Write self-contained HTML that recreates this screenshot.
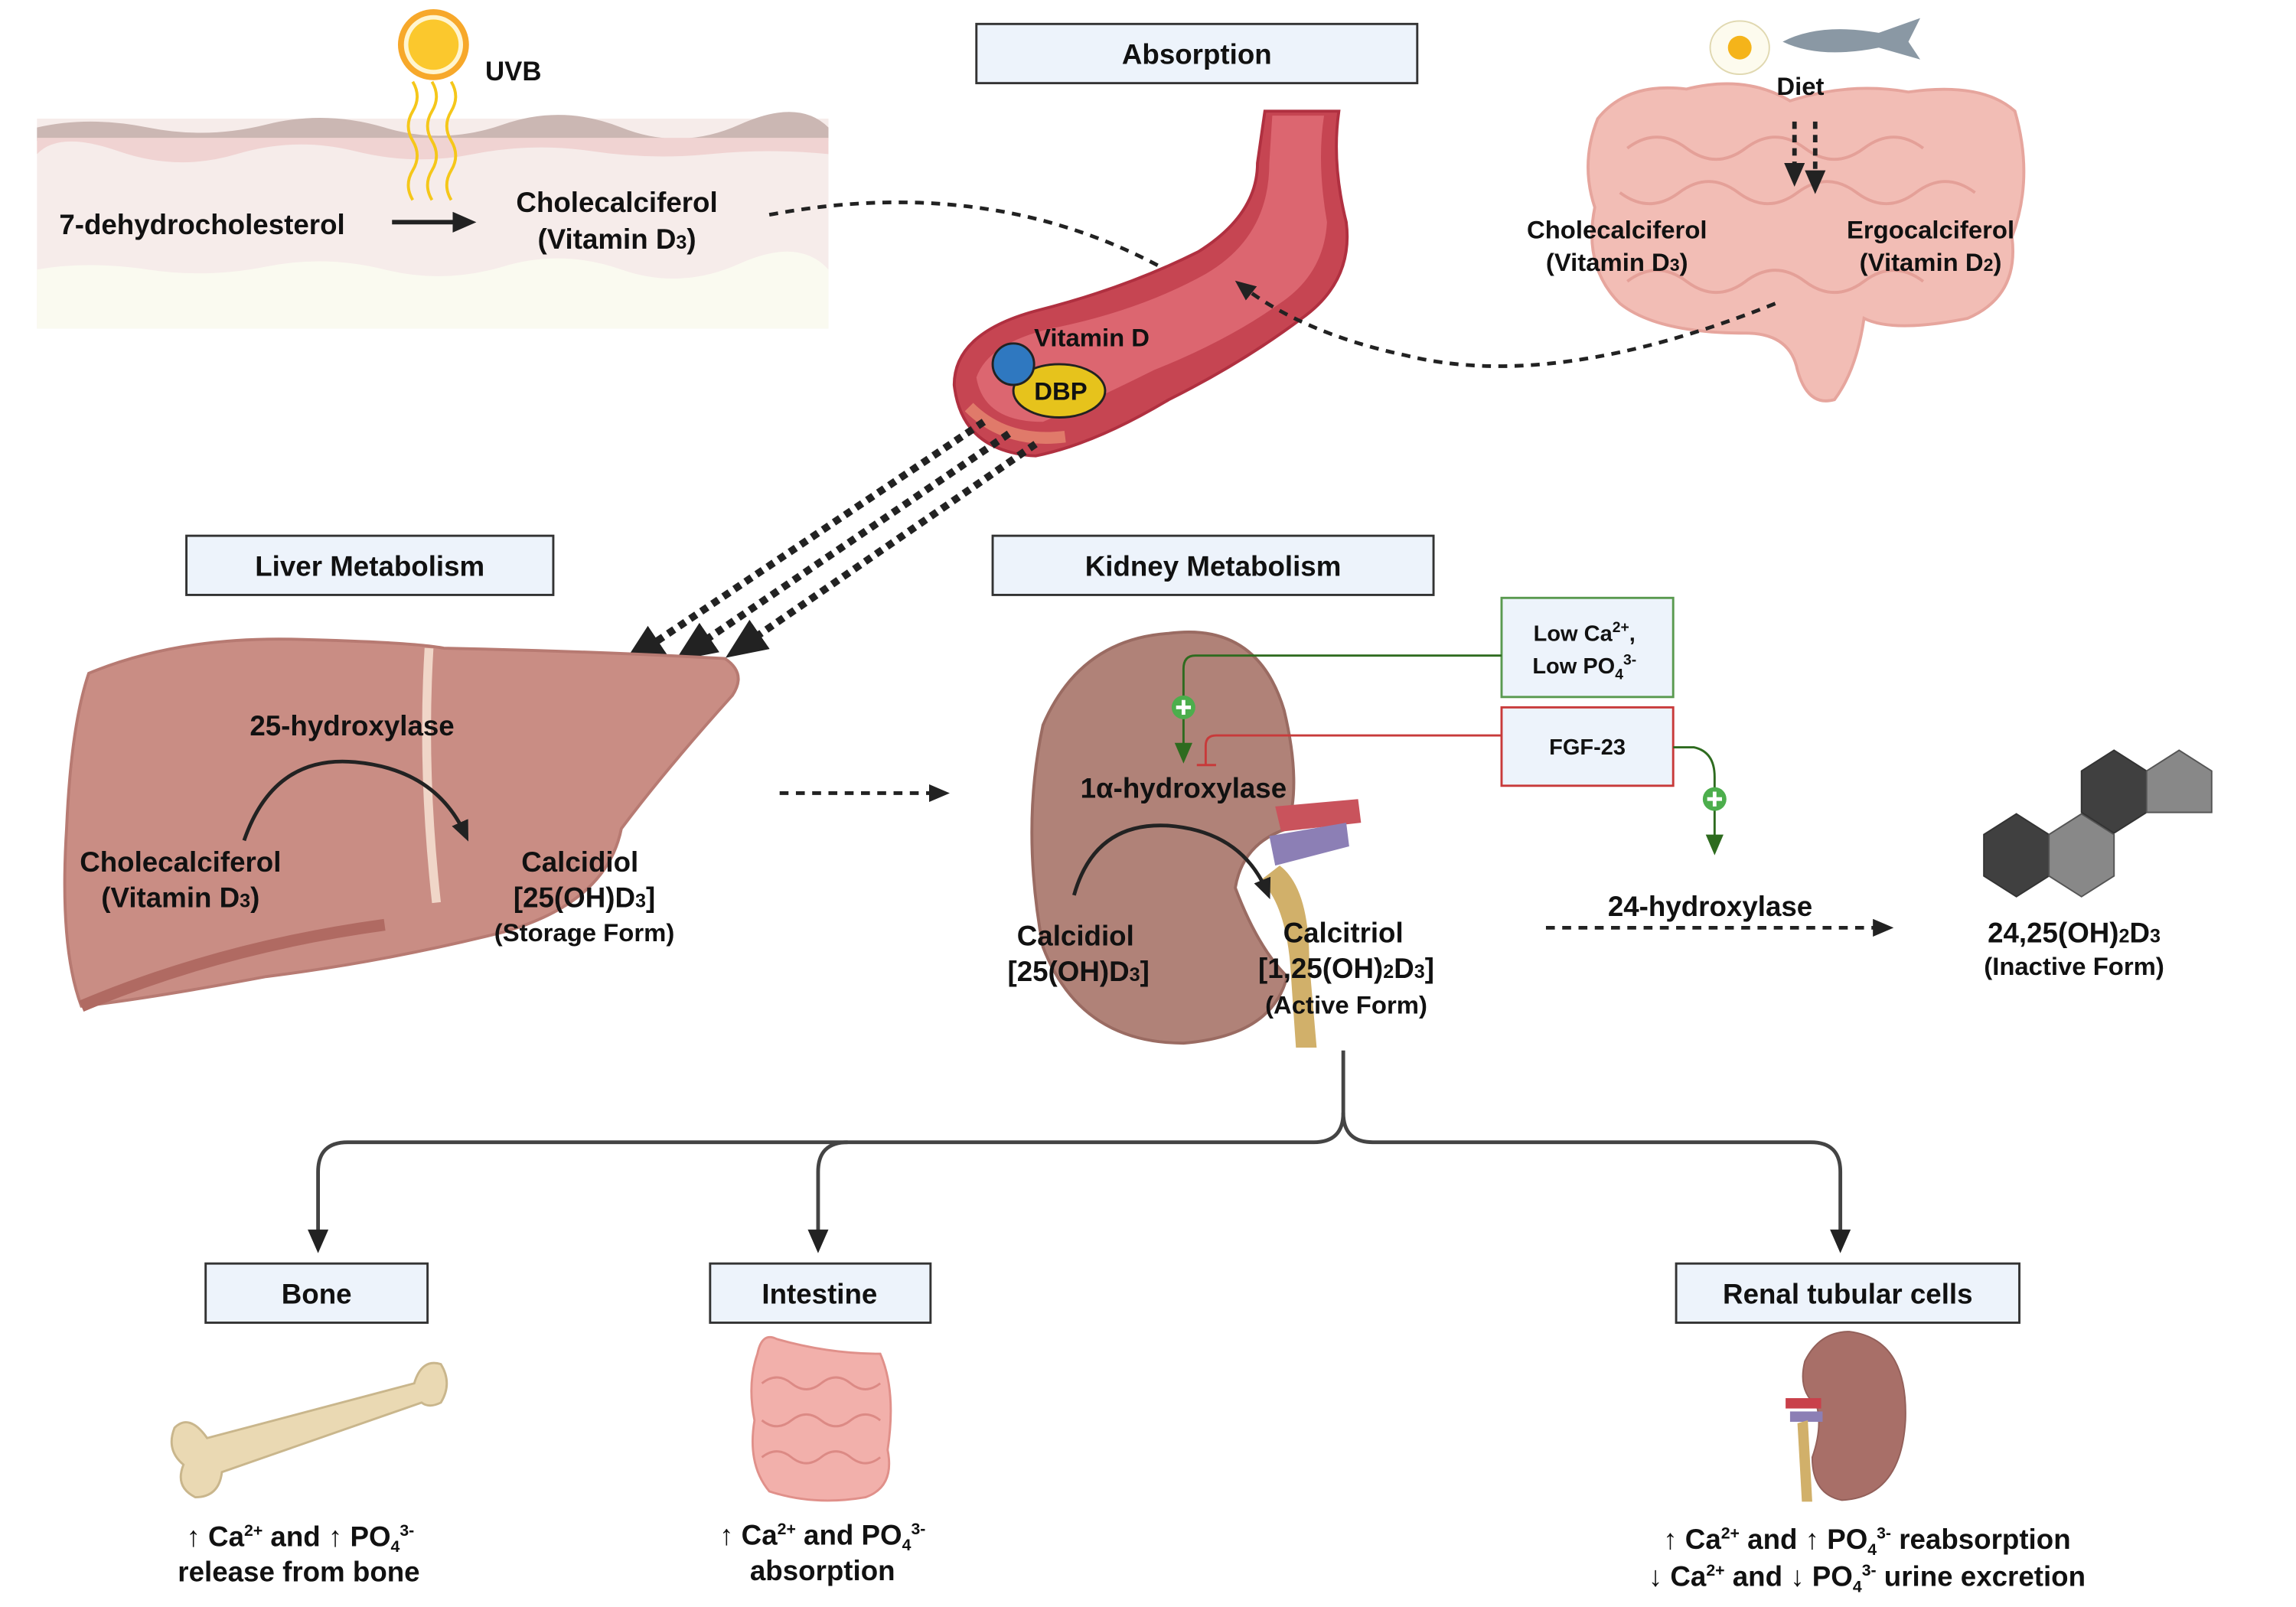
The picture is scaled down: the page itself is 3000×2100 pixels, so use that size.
<!DOCTYPE html>
<html><head><meta charset="utf-8"><style>
html,body{margin:0;padding:0;background:#fff}
svg{display:block}
text{font-family:"Liberation Sans",sans-serif;font-weight:bold;fill:#111}
</style></head><body>
<svg width="3000" height="2100" viewBox="0 0 1552 1086" xmlns="http://www.w3.org/2000/svg">
<defs>
<marker id="ah" markerWidth="14" markerHeight="12" refX="10" refY="6" orient="auto" markerUnits="userSpaceOnUse"><path d="M0,0 L14,6 L0,12z" fill="#222"/></marker>
<marker id="ahb" markerWidth="16" markerHeight="14" refX="12" refY="7" orient="auto" markerUnits="userSpaceOnUse"><path d="M0,0 L16,7 L0,14z" fill="#222"/></marker>
<marker id="ahL" markerWidth="28" markerHeight="24" refX="20" refY="12" orient="auto" markerUnits="userSpaceOnUse"><path d="M0,0 L28,12 L0,24z" fill="#222"/></marker>
<marker id="ahg" markerWidth="14" markerHeight="14" refX="10" refY="7" orient="auto" markerUnits="userSpaceOnUse"><path d="M0,1 L14,7 L0,13z" fill="#2e6b1f"/></marker>
</defs>

<!-- skin -->
<rect x="25" y="80" width="535" height="142" fill="#f6ecea"/>
<path d="M25,86 Q60,78 100,86 T180,84 T260,86 T340,84 T420,86 T500,84 T560,86 L560,95 L25,95z" fill="#cbb7b3"/>
<path d="M25,93 L560,93 L560,104 Q520,100 480,104 T400,102 T320,104 T240,102 T160,104 T80,102 T25,104z" fill="#f0d3d2"/>
<path d="M25,182 Q60,176 100,182 T180,180 T260,182 T340,180 T420,182 T500,178 T560,182 L560,222 L25,222z" fill="#fafaf0"/>
<!-- sun -->
<circle cx="293" cy="30" r="24" fill="#f7a82a"/>
<circle cx="293" cy="30" r="20" fill="#fff5d0"/>
<circle cx="293" cy="30" r="17" fill="#fbc82d"/>
<path d="M279,55 q6,10 0,20 t0,20 t0,20 t0,20 M292,55 q6,10 0,20 t0,20 t0,20 t0,20 M305,55 q6,10 0,20 t0,20 t0,20 t0,20" fill="none" stroke="#f5c71a" stroke-width="2"/>
<text x="328" y="54" font-size="18">UVB</text>
<text x="40" y="158" font-size="19">7-dehydrocholesterol</text>
<line x1="265" y1="150" x2="318" y2="150" stroke="#222" stroke-width="3" marker-end="url(#ahb)"/>
<text x="417" y="143" font-size="19" text-anchor="middle">Cholecalciferol</text>
<text x="417" y="168" font-size="19" text-anchor="middle">(Vitamin D<tspan font-size="13">3</tspan>)</text>
<path d="M520,145 Q680,115 805,192" fill="none" stroke="#222" stroke-width="2.5" stroke-dasharray="6,5" marker-end="url(#ah)"/>

<!-- absorption -->
<rect x="660" y="16" width="298" height="40" fill="#edf3fb" stroke="#333" stroke-width="1.5"/>
<text x="809" y="43" font-size="19" text-anchor="middle">Absorption</text>
<!-- vessel -->
<path d="M855,75 L905,75 Q900,110 910,150 Q915,190 880,215 Q840,245 790,270 Q740,300 700,308 Q650,305 645,260 Q645,225 700,210 Q760,195 810,170 Q850,145 850,110z" fill="#c64552" stroke="#b03040" stroke-width="2"/>
<path d="M860,78 L895,78 Q890,110 897,150 Q895,185 865,205 Q830,230 780,250 Q740,270 705,285 Q665,285 660,255 Q668,232 710,222 Q770,210 815,185 Q858,160 858,110z" fill="#dc6670"/>
<path d="M655,275 Q680,300 720,295" fill="none" stroke="#e07a6a" stroke-width="8"/>
<ellipse cx="716" cy="264" rx="31" ry="18" fill="#e6c31c" stroke="#222" stroke-width="1.5"/>
<circle cx="685" cy="246" r="14" fill="#2f78c0" stroke="#222" stroke-width="1.5"/>
<text x="738" y="234" font-size="17" text-anchor="middle">Vitamin D</text>
<text x="717" y="270" font-size="17" text-anchor="middle">DBP</text>

<!-- intestine right -->
<path d="M1080,80 Q1100,55 1140,60 Q1180,50 1210,68 Q1250,55 1290,62 Q1340,55 1362,75 Q1375,120 1360,160 Q1365,200 1330,215 Q1280,225 1260,215 Q1255,250 1240,270 Q1222,275 1215,250 Q1210,225 1180,225 Q1120,225 1095,205 Q1070,180 1078,140 Q1068,110 1080,80z" fill="#f2bdb5" stroke="#e6a59d" stroke-width="2"/>
<path d="M1100,100 q20,-15 40,0 t40,0 t40,0 t40,0 t40,0 M1095,130 q20,15 40,0 t40,0 t40,0 t40,0 t40,0 t40,0 M1100,190 q20,-15 40,0 t40,0 t40,0 t40,0 t40,0" fill="none" stroke="#e4a098" stroke-width="2"/>
<ellipse cx="1176" cy="32" rx="20" ry="18" fill="#fdfbee" stroke="#e0d8b0"/>
<circle cx="1176" cy="32" r="8" fill="#f5b41a"/>
<path d="M1205,28 Q1230,15 1270,22 L1298,12 L1290,28 L1298,40 L1270,32 Q1230,40 1205,28z" fill="#8a98a4"/>
<text x="1217" y="64" font-size="17" text-anchor="middle">Diet</text>
<line x1="1213" y1="82" x2="1213" y2="122" stroke="#222" stroke-width="3" stroke-dasharray="5,4" marker-end="url(#ahb)"/>
<line x1="1227" y1="82" x2="1227" y2="127" stroke="#222" stroke-width="3" stroke-dasharray="5,4" marker-end="url(#ahb)"/>
<text x="1093" y="161" font-size="17" text-anchor="middle">Cholecalciferol</text>
<text x="1093" y="183" font-size="17" text-anchor="middle">(Vitamin D<tspan font-size="12">3</tspan>)</text>
<text x="1305" y="161" font-size="17" text-anchor="middle">Ergocalciferol</text>
<text x="1305" y="183" font-size="17" text-anchor="middle">(Vitamin D<tspan font-size="12">2</tspan>)</text>
<path d="M1200,205 Q1050,265 950,240 Q880,225 838,192" fill="none" stroke="#222" stroke-width="2.5" stroke-dasharray="6,5" marker-end="url(#ah)"/>

<!-- dotted to liver -->
<g stroke="#222" stroke-width="5" stroke-dasharray="5,4" fill="none">
<line x1="665" y1="285" x2="428" y2="444" marker-end="url(#ahL)"/>
<line x1="682" y1="293" x2="463" y2="442" marker-end="url(#ahL)"/>
<line x1="700" y1="300" x2="497" y2="440" marker-end="url(#ahL)"/>
</g>

<!-- headers -->
<rect x="126" y="362" width="248" height="40" fill="#edf3fb" stroke="#333" stroke-width="1.5"/>
<text x="250" y="389" font-size="19" text-anchor="middle">Liver Metabolism</text>
<rect x="671" y="362" width="298" height="40" fill="#edf3fb" stroke="#333" stroke-width="1.5"/>
<text x="820" y="389" font-size="19" text-anchor="middle">Kidney Metabolism</text>

<!-- liver -->
<path d="M60,455 Q120,430 200,432 Q280,434 300,438 Q400,440 490,445 Q505,455 495,470 Q450,520 420,560 Q410,610 340,630 Q260,650 180,660 Q100,675 55,680 Q40,640 45,560 Q48,490 60,455z" fill="#c98d84" stroke="#b77a72" stroke-width="2"/>
<path d="M290,438 Q285,520 295,610" fill="none" stroke="#f0d6c8" stroke-width="6"/>
<path d="M55,680 Q150,640 260,625" fill="none" stroke="#b06a62" stroke-width="8"/>
<text x="238" y="497" font-size="19" text-anchor="middle">25-hydroxylase</text>
<path d="M165,568 Q185,510 240,515 Q295,520 315,565" fill="none" stroke="#222" stroke-width="2.5" marker-end="url(#ah)"/>
<text x="122" y="589" font-size="19" text-anchor="middle">Cholecalciferol</text>
<text x="122" y="613" font-size="19" text-anchor="middle">(Vitamin D<tspan font-size="13">3</tspan>)</text>
<text x="392" y="589" font-size="19" text-anchor="middle">Calcidiol</text>
<text x="395" y="613" font-size="19" text-anchor="middle">[25(OH)D<tspan font-size="13">3</tspan>]</text>
<text x="395" y="636" font-size="17" text-anchor="middle">(Storage Form)</text>
<line x1="527" y1="536" x2="638" y2="536" stroke="#222" stroke-width="2.5" stroke-dasharray="6,5" marker-end="url(#ah)"/>

<!-- kidney -->
<path d="M790,428 Q850,420 868,480 Q880,530 870,560 Q840,570 835,600 Q850,640 870,660 Q860,700 800,705 Q730,705 705,640 Q690,560 705,490 Q730,432 790,428z" fill="#b08278" stroke="#9a6b62" stroke-width="2"/>
<path d="M862,545 L918,540 L920,556 L866,562z" fill="#c9535c"/>
<path d="M858,565 L910,556 L912,572 L862,585z" fill="#8c7fb5"/>
<path d="M865,585 Q885,600 885,650 L890,708 L876,708 L872,650 Q868,610 852,595z" fill="#d1b06a"/>
<!-- regulators -->
<rect x="1015" y="404" width="116" height="67" fill="#edf3fb" stroke="#5a9a50" stroke-width="1.5"/>
<text x="1071" y="433" font-size="15" text-anchor="middle">Low Ca<tspan font-size="10" dy="-6">2+</tspan><tspan dy="6">,</tspan></text>
<text x="1071" y="455" font-size="15" text-anchor="middle">Low PO<tspan font-size="10" dy="4">4</tspan><tspan font-size="10" dy="-10">3-</tspan></text>
<rect x="1015" y="478" width="116" height="53" fill="#edf3fb" stroke="#c83a3a" stroke-width="1.5"/>
<text x="1073" y="510" font-size="15" text-anchor="middle">FGF-23</text>
<path d="M1015,443 L808,443 Q800,443 800,452 L800,512" fill="none" stroke="#2e6b1f" stroke-width="1.5" marker-end="url(#ahg)"/>
<circle cx="800" cy="478" r="8" fill="#4cae4c"/><path d="M795,478h10M800,473v10" stroke="#fff" stroke-width="2.5"/>
<path d="M1015,497 L822,497 Q815,497 815,504 L815,517 M809,517 L822,517" fill="none" stroke="#c83a3a" stroke-width="1.5"/>
<path d="M1131,505 L1145,505 Q1159,508 1159,525 L1159,574" fill="none" stroke="#2e6b1f" stroke-width="1.5" marker-end="url(#ahg)"/>
<circle cx="1159" cy="540" r="8" fill="#4cae4c"/><path d="M1154,540h10M1159,535v10" stroke="#fff" stroke-width="2.5"/>
<text x="800" y="539" font-size="19" text-anchor="middle">1α-hydroxylase</text>
<path d="M726,605 Q740,555 790,558 Q840,562 857,604" fill="none" stroke="#222" stroke-width="2.5" marker-end="url(#ah)"/>
<text x="727" y="639" font-size="19" text-anchor="middle">Calcidiol</text>
<text x="729" y="663" font-size="19" text-anchor="middle">[25(OH)D<tspan font-size="13">3</tspan>]</text>
<text x="908" y="637" font-size="19" text-anchor="middle">Calcitriol</text>
<text x="910" y="661" font-size="19" text-anchor="middle">[1,25(OH)<tspan font-size="13">2</tspan>D<tspan font-size="13">3</tspan>]</text>
<text x="910" y="685" font-size="17" text-anchor="middle">(Active Form)</text>
<text x="1156" y="619" font-size="19" text-anchor="middle">24-hydroxylase</text>
<line x1="1045" y1="627" x2="1276" y2="627" stroke="#222" stroke-width="2.5" stroke-dasharray="6,5" marker-end="url(#ah)"/>
<!-- hexagons -->
<polygon points="1363,550 1385,564 1385,592 1363,606 1341,592 1341,564" fill="#404040" stroke="#333"/>
<polygon points="1407,550 1429,564 1429,592 1407,606 1385,592 1385,564" fill="#888" stroke="#555"/>
<polygon points="1429,507 1451,521 1451,549 1429,563 1407,549 1407,521" fill="#404040" stroke="#333"/>
<polygon points="1473,507 1495,521 1495,549 1451,549 1451,521" fill="#888" stroke="#555"/>
<text x="1402" y="637" font-size="19" text-anchor="middle">24,25(OH)<tspan font-size="13">2</tspan>D<tspan font-size="13">3</tspan></text>
<text x="1402" y="659" font-size="17" text-anchor="middle">(Inactive Form)</text>

<!-- tree -->
<g fill="none" stroke="#444" stroke-width="2.5">
<path d="M908,710 L908,752 Q908,772 888,772 L235,772 Q215,772 215,792 L215,843" marker-end="url(#ahb)"/>
<path d="M573,772 Q553,772 553,792 L553,843" marker-end="url(#ahb)"/>
<path d="M908,752 Q908,772 928,772 L1224,772 Q1244,772 1244,792 L1244,843" marker-end="url(#ahb)"/>
</g>
<rect x="139" y="854" width="150" height="40" fill="#edf3fb" stroke="#333" stroke-width="1.5"/>
<text x="214" y="881" font-size="19" text-anchor="middle">Bone</text>
<rect x="480" y="854" width="149" height="40" fill="#edf3fb" stroke="#333" stroke-width="1.5"/>
<text x="554" y="881" font-size="19" text-anchor="middle">Intestine</text>
<rect x="1133" y="854" width="232" height="40" fill="#edf3fb" stroke="#333" stroke-width="1.5"/>
<text x="1249" y="881" font-size="19" text-anchor="middle">Renal tubular cells</text>

<!-- bone -->
<path d="M118,965 Q128,955 140,972 L280,935 Q285,918 298,922 Q306,935 298,948 Q290,952 285,948 L150,995 Q148,1012 132,1012 Q118,1005 124,990 Q112,980 118,965z" fill="#ead9b3" stroke="#c9b68c" stroke-width="1.5"/>
<!-- small intestine -->
<path d="M512,915 Q515,900 525,905 Q560,915 595,915 Q606,940 600,980 Q605,1005 585,1012 Q550,1018 520,1008 Q505,990 510,960 Q505,935 512,915z" fill="#f2b0ab" stroke="#e0908a" stroke-width="1.5"/>
<path d="M515,935 q10,-8 20,0 t20,0 t20,0 t20,0 M515,960 q10,8 20,0 t20,0 t20,0 t20,0 M515,985 q10,-8 20,0 t20,0 t20,0 t20,0" fill="none" stroke="#dc8a85" stroke-width="1.5"/>
<!-- small kidney -->
<path d="M1250,900 Q1290,905 1288,960 Q1285,1012 1245,1014 Q1225,1010 1225,985 Q1232,965 1228,950 Q1215,940 1220,920 Q1230,900 1250,900z" fill="#a86f68" stroke="#93605a"/>
<rect x="1207" y="945" width="24" height="7" fill="#c9404a"/>
<rect x="1210" y="954" width="22" height="7" fill="#8c7fb5"/>
<path d="M1222,960 L1225,1015 L1218,1015 L1215,962z" fill="#d1b06a"/>

<text x="203" y="1045" font-size="19" text-anchor="middle">↑ Ca<tspan font-size="11" dy="-7">2+</tspan><tspan dy="7"> and ↑ PO</tspan><tspan font-size="11" dy="4">4</tspan><tspan font-size="11" dy="-11">3-</tspan></text>
<text x="202" y="1069" font-size="19" text-anchor="middle">release from bone</text>
<text x="556" y="1044" font-size="19" text-anchor="middle">↑ Ca<tspan font-size="11" dy="-7">2+</tspan><tspan dy="7"> and PO</tspan><tspan font-size="11" dy="4">4</tspan><tspan font-size="11" dy="-11">3-</tspan></text>
<text x="556" y="1068" font-size="19" text-anchor="middle">absorption</text>
<text x="1262" y="1047" font-size="19" text-anchor="middle">↑ Ca<tspan font-size="11" dy="-7">2+</tspan><tspan dy="7"> and ↑ PO</tspan><tspan font-size="11" dy="4">4</tspan><tspan font-size="11" dy="-11">3-</tspan><tspan dy="7"> reabsorption</tspan></text>
<text x="1262" y="1072" font-size="19" text-anchor="middle">↓ Ca<tspan font-size="11" dy="-7">2+</tspan><tspan dy="7"> and ↓ PO</tspan><tspan font-size="11" dy="4">4</tspan><tspan font-size="11" dy="-11">3-</tspan><tspan dy="7"> urine excretion</tspan></text>
</svg>
</body></html>
